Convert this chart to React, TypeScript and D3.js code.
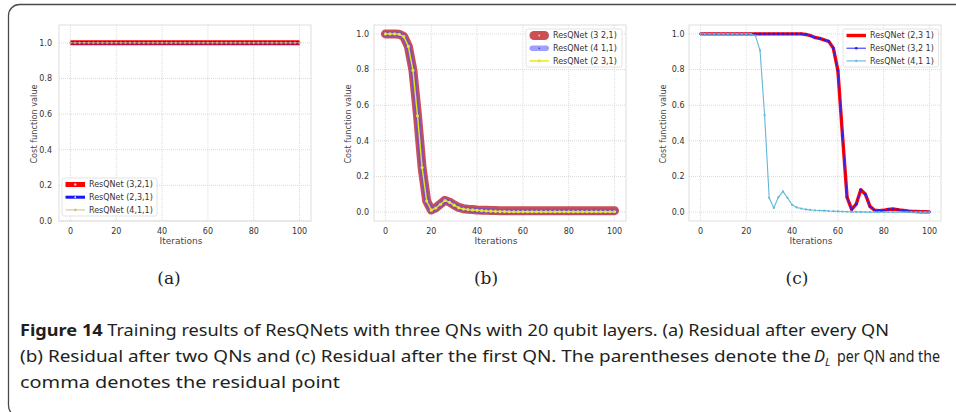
import React from "react";
import * as d3 from "d3";

// Iteration index shared by every series (sampled every 2 iterations)
const iterations = [
  0, 2, 4, 6, 8, 10, 12, 14, 16, 18, 20, 22, 24, 26, 28, 30, 32, 34, 36, 38, 40,
  42, 44, 46, 48, 50, 52, 54, 56, 58, 60, 62, 64, 66, 68, 70, 72, 74, 76, 78, 80,
  82, 84, 86, 88, 90, 92, 94, 96, 98, 100,
];

// (a) residual after every QN: the cost never moves from 1
const a321 = [
  1, 1, 1, 1, 1, 1, 1, 1, 1, 1, 1, 1, 1, 1, 1, 1, 1, 1, 1, 1, 1, 1, 1, 1, 1, 1,
  1, 1, 1, 1, 1, 1, 1, 1, 1, 1, 1, 1, 1, 1, 1, 1, 1, 1, 1, 1, 1, 1, 1, 1, 1,
];
const a231 = [
  1, 1, 1, 1, 1, 1, 1, 1, 1, 1, 1, 1, 1, 1, 1, 1, 1, 1, 1, 1, 1, 1, 1, 1, 1, 1,
  1, 1, 1, 1, 1, 1, 1, 1, 1, 1, 1, 1, 1, 1, 1, 1, 1, 1, 1, 1, 1, 1, 1, 1, 1,
];
const a411 = [
  1, 1, 1, 1, 1, 1, 1, 1, 1, 1, 1, 1, 1, 1, 1, 1, 1, 1, 1, 1, 1, 1, 1, 1, 1, 1,
  1, 1, 1, 1, 1, 1, 1, 1, 1, 1, 1, 1, 1, 1, 1, 1, 1, 1, 1, 1, 1, 1, 1, 1, 1,
];

// (b) residual after two QNs
const b321 = [
  1.0, 1.0, 1.0, 0.998, 0.985, 0.93, 0.795, 0.54, 0.25, 0.062, 0.012, 0.024,
  0.045, 0.066, 0.056, 0.04, 0.026, 0.019, 0.016, 0.014, 0.012, 0.011, 0.01,
  0.009, 0.009, 0.008, 0.008, 0.008, 0.008, 0.008, 0.008, 0.008, 0.008, 0.008,
  0.008, 0.008, 0.008, 0.008, 0.008, 0.008, 0.008, 0.008, 0.008, 0.008, 0.008,
  0.008, 0.008, 0.008, 0.008, 0.008, 0.008,
];
const b411 = [
  1.0, 1.0, 1.0, 0.998, 0.985, 0.93, 0.795, 0.54, 0.25, 0.062, 0.011, 0.023,
  0.044, 0.065, 0.055, 0.039, 0.024, 0.017, 0.014, 0.012, 0.01, 0.008, 0.007,
  0.006, 0.005, 0.004, 0.004, 0.003, 0.003, 0.003, 0.003, 0.003, 0.003, 0.003,
  0.003, 0.003, 0.003, 0.003, 0.003, 0.003, 0.003, 0.003, 0.003, 0.003, 0.003,
  0.003, 0.003, 0.003, 0.003, 0.003, 0.003,
];
const b231 = [
  1.0, 1.0, 1.0, 0.998, 0.985, 0.93, 0.795, 0.54, 0.25, 0.062, 0.011, 0.023,
  0.044, 0.065, 0.055, 0.039, 0.024, 0.017, 0.014, 0.012, 0.01, 0.008, 0.006,
  0.005, 0.004, 0.003, 0.003, 0.002, 0.002, 0.002, 0.002, 0.002, 0.002, 0.002,
  0.002, 0.002, 0.002, 0.002, 0.002, 0.002, 0.002, 0.002, 0.002, 0.002, 0.002,
  0.002, 0.002, 0.002, 0.002, 0.002, 0.002,
];

// (c) residual after the first QN
const c231 = [
  1.0, 1.0, 1.0, 1.0, 1.0, 1.0, 1.0, 1.0, 1.0, 1.0, 1.0, 1.0, 1.0, 1.0, 1.0,
  1.0, 1.0, 1.0, 1.0, 1.0, 1.0, 1.0, 1.0, 0.997, 0.99, 0.98, 0.975, 0.966,
  0.958, 0.92, 0.794, 0.43, 0.083, 0.015, 0.045, 0.125, 0.1, 0.032, 0.01, 0.008,
  0.01, 0.015, 0.017, 0.014, 0.01, 0.007, 0.004, 0.003, 0.002, 0.002, 0.001,
];
const c321 = [
  1.0, 1.0, 1.0, 1.0, 1.0, 1.0, 1.0, 1.0, 1.0, 1.0, 1.0, 1.0, 1.0, 1.0, 1.0,
  1.0, 1.0, 1.0, 1.0, 1.0, 1.0, 1.0, 1.0, 0.997, 0.99, 0.98, 0.975, 0.966,
  0.958, 0.92, 0.794, 0.43, 0.083, 0.015, 0.045, 0.125, 0.1, 0.032, 0.01, 0.008,
  0.01, 0.015, 0.017, 0.014, 0.01, 0.007, 0.004, 0.003, 0.002, 0.002, 0.001,
];
const c411 = [
  1.0, 1.0, 1.0, 1.0, 1.0, 1.0, 1.0, 1.0, 1.0, 1.0, 1.0, 1.0, 0.99, 0.908,
  0.544, 0.08, 0.023, 0.083, 0.116, 0.08, 0.041, 0.026, 0.02, 0.015, 0.012,
  0.01, 0.009, 0.008, 0.006, 0.005, 0.004, 0.003, 0.002, 0.001, 0.001, 0.001,
  0.0, 0.0, 0.0, 0.0, 0.0, 0.0, 0.0, 0.0, 0.0, 0.0, 0.0, 0.0, 0.0, 0.0, 0.0,
];

const xTicks = [0, 20, 40, 60, 80, 100];
const yTicks = [0, 0.2, 0.4, 0.6, 0.8, 1.0];

const legendA = ["ResQNet (3,2,1)", "ResQNet (2,3,1)", "ResQNet (4,1,1)"];
const legendB = ["ResQNet (3 2,1)", "ResQNet (4 1,1)", "ResQNet (2 3,1)"];
const legendC = ["ResQNet (2,3 1)", "ResQNet (3,2 1)", "ResQNet (4,1 1)"];

const subLabels = ["(a)", "(b)", "(c)"];

const captionLines = [
  "Training results of ResQNets with three QNs with 20 qubit layers. (a) Residual after every QN",
  "(b) Residual after two QNs and (c) Residual after the first QN. The parentheses denote the",
  "per QN and the",
  "comma denotes the residual point",
];

type Style = {
  color: string;
  width: number;
  opacity?: number;
  cap?: "round" | "butt";
  marker: { r: number; fill: string; shape?: "circle" | "square" | "plus" };
};

type Series = { values: number[]; label: string; style: Style };

const TICK_FONT = "'DejaVu Sans', sans-serif";
const TICK_SIZE = 8;

function Marker({ x, y, m }: { x: number; y: number; m: Style["marker"] }) {
  if (m.shape === "square")
    return <rect x={x - m.r} y={y - m.r} width={m.r * 2} height={m.r * 2} fill={m.fill} />;
  if (m.shape === "plus")
    return (
      <path
        d={`M${x - m.r},${y}H${x + m.r}M${x},${y - m.r}V${y + m.r}`}
        stroke={m.fill}
        strokeWidth={0.7}
      />
    );
  return <circle cx={x} cy={y} r={m.r} fill={m.fill} />;
}

function Panel({
  left,
  yDomain,
  yTickRight,
  yTitleX,
  series,
  legend,
}: {
  left: number;
  yDomain: [number, number];
  yTickRight: number;
  yTitleX: number;
  series: Series[];
  legend: { x: number; y: number; w: number };
}) {
  const top = 25;
  const bottom = 221;
  const right = left + 252;
  const x = d3.scaleLinear().domain([-5, 105]).range([left, right]);
  const y = d3.scaleLinear().domain(yDomain).range([bottom, top]);
  const line = d3
    .line<number>()
    .x((_, i) => x(iterations[i]))
    .y((v) => y(v));

  return (
    <g>
      <rect x={left} y={top} width={right - left} height={bottom - top} fill="#fff" stroke="#e3e3e3" strokeWidth={1.2} />
      {xTicks.map((t) => (
        <line key={"gx" + t} x1={x(t)} x2={x(t)} y1={top} y2={bottom} stroke="#cbcbcb" strokeWidth={0.7} strokeDasharray="1,1" />
      ))}
      {yTicks.map((t) => (
        <line key={"gy" + t} x1={left} x2={right} y1={y(t)} y2={y(t)} stroke="#cbcbcb" strokeWidth={0.7} strokeDasharray="1,1" />
      ))}
      {xTicks.map((t) => (
        <text key={"tx" + t} x={x(t)} y={234} textAnchor="middle" fontFamily={TICK_FONT} fontSize={TICK_SIZE} fill="#333">
          {t}
        </text>
      ))}
      {yTicks.map((t) => (
        <text key={"ty" + t} x={yTickRight} y={y(t) + 2.9} textAnchor="end" fontFamily={TICK_FONT} fontSize={TICK_SIZE} fill="#333">
          {t.toFixed(1)}
        </text>
      ))}
      <text x={(left + right) / 2 - 4} y={243.5} textAnchor="middle" fontFamily={TICK_FONT} fontSize={9} fill="#444">
        Iterations
      </text>
      <text
        transform={`translate(${yTitleX + 1.8},${(top + bottom) / 2 + 1}) rotate(-90)`}
        textAnchor="middle"
        fontFamily={TICK_FONT}
        fontSize={8.2}
        fill="#444"
      >
        Cost function value
      </text>
      {series.map((s, si) => (
        <g key={"s" + si}>
          <path
            d={line(s.values) ?? ""}
            fill="none"
            stroke={s.style.color}
            strokeWidth={s.style.width}
            strokeOpacity={s.style.opacity ?? 1}
            strokeLinecap={s.style.cap ?? "butt"}
            strokeLinejoin="round"
          />
          {s.values.map((v, i) => (
            <Marker key={i} x={x(iterations[i])} y={y(v)} m={s.style.marker} />
          ))}
        </g>
      ))}
      <rect x={legend.x} y={legend.y} width={legend.w} height={38} rx={2} fill="#fff" fillOpacity={0.85} stroke="#dcdcdc" strokeWidth={0.8} />
      {series.map((s, i) => {
        const ly = legend.y + 6.5 + i * 12.7;
        const hx1 = legend.x + 3.5;
        const hx2 = legend.x + 23;
        return (
          <g key={"l" + i}>
            <line
              x1={hx1 + (s.style.cap === "round" ? s.style.width / 2 : 0)}
              x2={hx2 - (s.style.cap === "round" ? s.style.width / 2 : 0)}
              y1={ly}
              y2={ly}
              stroke={s.style.color}
              strokeWidth={s.style.width}
              strokeOpacity={s.style.opacity ?? 1}
              strokeLinecap={s.style.cap ?? "butt"}
            />
            <Marker x={(hx1 + hx2) / 2} y={ly} m={s.style.marker} />
            <text x={legend.x + 27} y={ly + 2.9} fontFamily={TICK_FONT} fontSize={TICK_SIZE} fill="#333">
              {s.label}
            </text>
          </g>
        );
      })}
    </g>
  );
}

export default function App() {
  const seriesA: Series[] = [
    { values: a321, label: legendA[0], style: { color: "#ff0000", width: 5, marker: { r: 1.3, fill: "#f7b0b0" } } },
    { values: a231, label: legendA[1], style: { color: "#1515ff", width: 3, marker: { r: 0.9, fill: "#e8e8ff" } } },
    { values: a411, label: legendA[2], style: { color: "#d2b46c", width: 0.9, marker: { r: 1.4, fill: "#c9a95a", shape: "plus" } } },
  ];
  const seriesB: Series[] = [
    { values: b321, label: legendB[0], style: { color: "#c9464b", width: 9, opacity: 0.95, cap: "round", marker: { r: 0.8, fill: "#f3c9c9", shape: "square" } } },
    { values: b411, label: legendB[1], style: { color: "#5050ff", width: 5.5, opacity: 0.55, cap: "round", marker: { r: 0.8, fill: "#2a2aee" } } },
    { values: b231, label: legendB[2], style: { color: "#e6e617", width: 1.4, marker: { r: 1.6, fill: "#e4e43a" } } },
  ];
  const seriesC: Series[] = [
    { values: c231, label: legendC[0], style: { color: "#ff0000", width: 3.4, marker: { r: 0.9, fill: "#e21818" } } },
    { values: c321, label: legendC[1], style: { color: "#2323ff", width: 1, marker: { r: 1.3, fill: "#2020f0" } } },
    { values: c411, label: legendC[2], style: { color: "#64b7d6", width: 1.1, marker: { r: 1.1, fill: "#64b7d6" } } },
  ];

  const captionFont = "'Noto Sans', 'Open Sans', sans-serif";

  return (
    <svg width={956} height={412} style={{ position: "absolute", left: 0, top: 0 }} xmlns="http://www.w3.org/2000/svg">
      <rect width={956} height={412} fill="#fff" />
      <rect x={8.5} y={4.5} width={1000} height={412} rx={11} fill="none" stroke="#4a4a4a" strokeWidth={1.3} />

      <Panel left={59} yDomain={[0, 1.1]} yTickRight={52} yTitleX={35} series={seriesA} legend={{ x: 62, y: 178, w: 95 }} />
      <Panel left={374} yDomain={[-0.05, 1.05]} yTickRight={369} yTitleX={349.5} series={seriesB} legend={{ x: 526, y: 29, w: 96 }} />
      <Panel left={689} yDomain={[-0.05, 1.05]} yTickRight={684.5} yTitleX={664.5} series={seriesC} legend={{ x: 843, y: 29, w: 95.5 }} />

      {subLabels.map((s, i) => (
        <text key={s} x={[169, 486, 797][i]} y={284} textAnchor="middle" fontFamily="'DejaVu Serif', 'Liberation Serif', serif" fontSize={17} fill="#222">
          {s}
        </text>
      ))}

      <text x={20} y={336} fontFamily={captionFont} fontSize={16.5} fill="#231f20" textLength={869} lengthAdjust="spacingAndGlyphs">
        <tspan fontWeight="bold">Figure 14</tspan>
        <tspan>{"  " + captionLines[0]}</tspan>
      </text>
      <text x={20} y={362} fontFamily={captionFont} fontSize={16.5} fill="#231f20" textLength={791} lengthAdjust="spacingAndGlyphs">
        {captionLines[1]}
      </text>
      <text x={814} y={362} fontFamily={captionFont} fontSize={16.5} fill="#231f20" fontStyle="italic">
        D<tspan fontSize={11} dy={4}>L</tspan>
      </text>
      <text x={837} y={362} fontFamily={captionFont} fontSize={16.5} fill="#231f20" textLength={103} lengthAdjust="spacingAndGlyphs">
        {captionLines[2]}
      </text>
      <text x={20} y={388} fontFamily={captionFont} fontSize={16.5} fill="#231f20" textLength={320} lengthAdjust="spacingAndGlyphs">
        {captionLines[3]}
      </text>
    </svg>
  );
}
